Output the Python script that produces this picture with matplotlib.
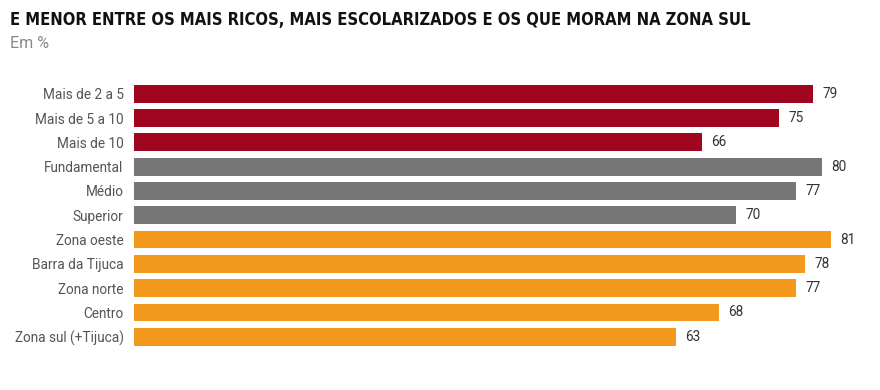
import matplotlib
matplotlib.use("Agg")
import matplotlib.pyplot as plt

categories = ["Mais de 2 a 5", "Mais de 5 a 10", "Mais de 10",
              "Fundamental", "Médio", "Superior",
              "Zona oeste", "Barra da Tijuca", "Zona norte", "Centro",
              "Zona sul (+Tijuca)"]
values = [79, 75, 66, 80, 77, 70, 81, 78, 77, 68, 63]
groups = ["renda"] * 3 + ["escolaridade"] * 3 + ["zona"] * 5

RED = "#A0061F"
GRAY = "#777777"
ORANGE = "#F39A1E"
group_colors = {"renda": RED, "escolaridade": GRAY, "zona": ORANGE}

title = "E MENOR ENTRE OS MAIS RICOS, MAIS ESCOLARIZADOS E OS QUE MORAM NA ZONA SUL"
subtitle = "Em %"

plt.rcParams["font.family"] = ["Roboto", "DejaVu Sans"]

fig = plt.figure(figsize=(8.8, 3.9), dpi=100)
ax = fig.add_axes([134 / 880, 0.1054, 746 / 880, 0.7908 - 0.1054])

pos = list(range(len(categories)))
ax.barh(pos, values, height=0.73, color=[group_colors[g] for g in groups])
ax.set_xlim(0, 746 / 8.6)
ax.set_ylim(len(categories) - 0.5, -0.5)

for p, v in zip(pos, values):
    ax.text(v + 1.1, p, str(v), va="center", ha="left", fontsize=9.8,
            color="#333333")

ax.set_yticks(pos)
ax.set_yticklabels(categories, fontsize=9.8, color="#555555")
ax.tick_params(axis="y", length=0, pad=7.5)
ax.set_xticks([])
for s in ax.spines.values():
    s.set_visible(False)

t = fig.text(10 / 880, 1 - 20 / 390, title, fontsize=14.5, fontweight="bold",
             family=["DejaVu Sans"], stretch="condensed", color="#111111",
             va="center", ha="left")
fig.text(10 / 880, 1 - 43 / 390, subtitle, fontsize=11.5, color="#888888",
         va="center", ha="left")

# squeeze title to the reference width (~739 px) if the condensed face is missing
fig.canvas.draw()
w = t.get_window_extent().width
if w > 745:
    t.set_fontsize(14.5 * 739 / w)

fig.savefig("out.png", dpi=100)
